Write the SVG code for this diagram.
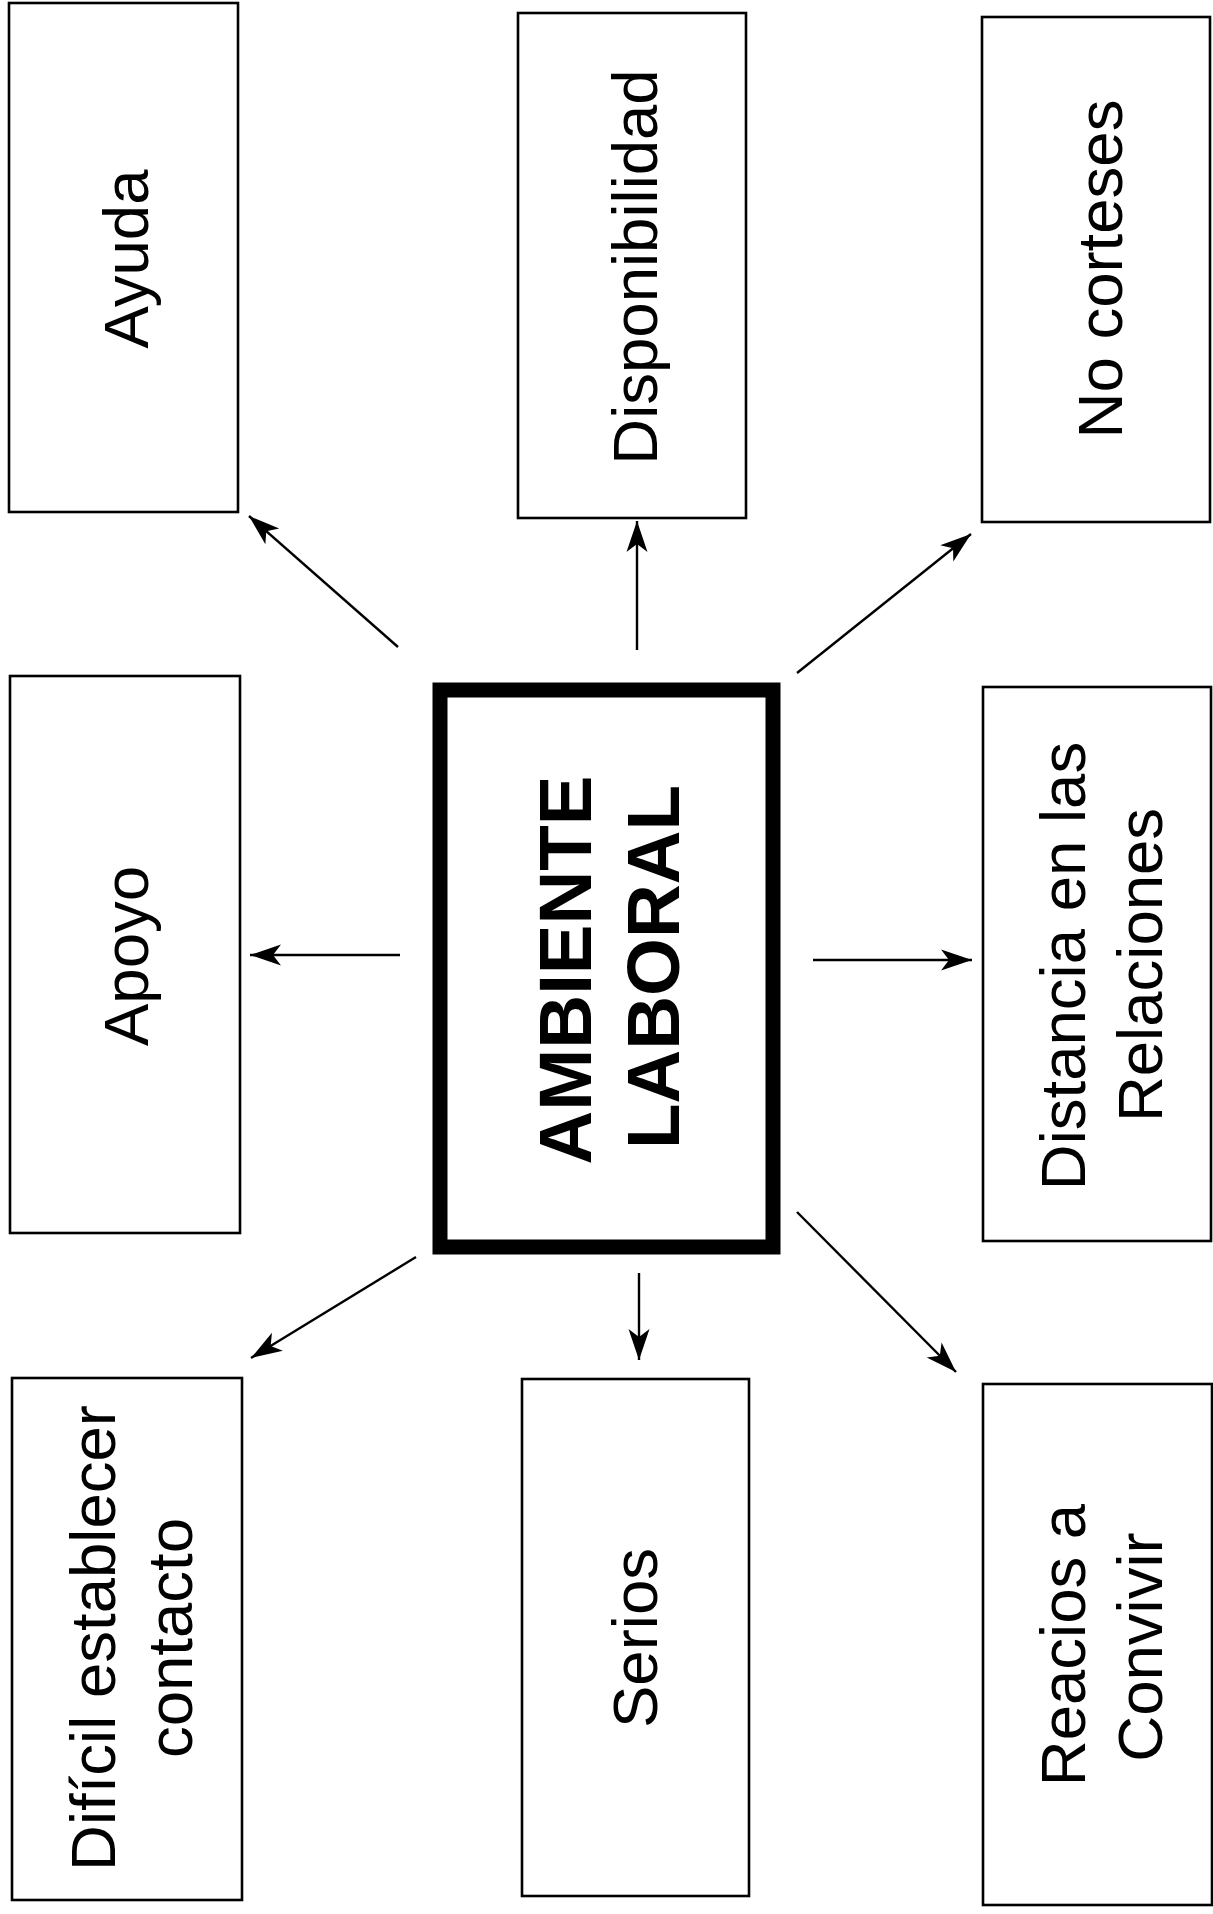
<svg xmlns="http://www.w3.org/2000/svg" width="1213" height="1914" viewBox="0 0 1213 1914">
  <style>
    .box { fill: #ffffff; stroke: #000000; stroke-width: 2.6; }
    .core { fill: #ffffff; stroke: #000000; stroke-width: 15; }
    .label { font-family: "Liberation Sans", Arial, sans-serif; font-size: 63.5px; fill: #000000; text-anchor: middle; }
    .title { font-family: "Liberation Sans", Arial, sans-serif; font-size: 74.5px; font-weight: bold; fill: #000000; text-anchor: middle; }
    .link { stroke: #000000; stroke-width: 2.4; fill: none; marker-end: url(#head); }
  </style>
  <defs>
    <marker id="head" markerUnits="userSpaceOnUse" markerWidth="34" markerHeight="24" viewBox="-31 -12 33 24" refX="0" refY="0" orient="auto">
      <path d="M0,0 L-31,-10.5 L-23,0 L-31,10.5 Z" fill="#000000"/>
    </marker>
  </defs>
  <rect width="1213" height="1914" fill="#ffffff"/>

  <!-- connectors from the central concept -->
  <g id="connectors">
    <line class="link" x1="398" y1="647" x2="249" y2="516"/>
    <line class="link" x1="637" y1="650" x2="637" y2="521"/>
    <line class="link" x1="797" y1="673" x2="971" y2="534"/>
    <line class="link" x1="400" y1="955" x2="250" y2="955"/>
    <line class="link" x1="813" y1="960" x2="972" y2="960"/>
    <line class="link" x1="416" y1="1257" x2="251" y2="1358"/>
    <line class="link" x1="639" y1="1273" x2="639" y2="1360"/>
    <line class="link" x1="797" y1="1212" x2="956" y2="1372"/>
  </g>

  <!-- central concept -->
  <g id="ambiente-laboral">
    <rect class="core" x="440" y="690" width="333" height="557"/>
    <text class="title" transform="translate(591,970) rotate(-90)">AMBIENTE</text>
    <text class="title" transform="translate(679,967) rotate(-90)">LABORAL</text>
  </g>

  <!-- top row -->
  <g id="ayuda">
    <rect class="box" x="9" y="3" width="229" height="509"/>
    <text class="label" transform="translate(148,259) rotate(-90)">Ayuda</text>
  </g>
  <g id="disponibilidad">
    <rect class="box" x="518" y="13" width="228" height="505"/>
    <text class="label" transform="translate(657,267) rotate(-90)">Disponibilidad</text>
  </g>
  <g id="no-corteses">
    <rect class="box" x="982" y="17" width="228" height="505"/>
    <text class="label" transform="translate(1122,269) rotate(-90)">No corteses</text>
  </g>

  <!-- middle row -->
  <g id="apoyo">
    <rect class="box" x="10" y="676" width="230" height="557"/>
    <text class="label" transform="translate(148,956) rotate(-90)">Apoyo</text>
  </g>
  <g id="distancia">
    <rect class="box" x="983" y="687" width="228" height="554"/>
    <text class="label" transform="translate(1085,966) rotate(-90)">Distancia en las</text>
    <text class="label" transform="translate(1162,965) rotate(-90)">Relaciones</text>
  </g>

  <!-- bottom row -->
  <g id="dificil">
    <rect class="box" x="12" y="1378" width="230" height="522"/>
    <text class="label" transform="translate(115,1638) rotate(-90)">Difícil establecer</text>
    <text class="label" transform="translate(192,1638) rotate(-90)">contacto</text>
  </g>
  <g id="serios">
    <rect class="box" x="522" y="1379" width="227" height="517"/>
    <text class="label" transform="translate(657,1638) rotate(-90)">Serios</text>
  </g>
  <g id="reacios">
    <rect class="box" x="983" y="1384" width="229" height="521"/>
    <text class="label" transform="translate(1085,1645) rotate(-90)">Reacios a</text>
    <text class="label" transform="translate(1162,1647) rotate(-90)">Convivir</text>
  </g>
</svg>
